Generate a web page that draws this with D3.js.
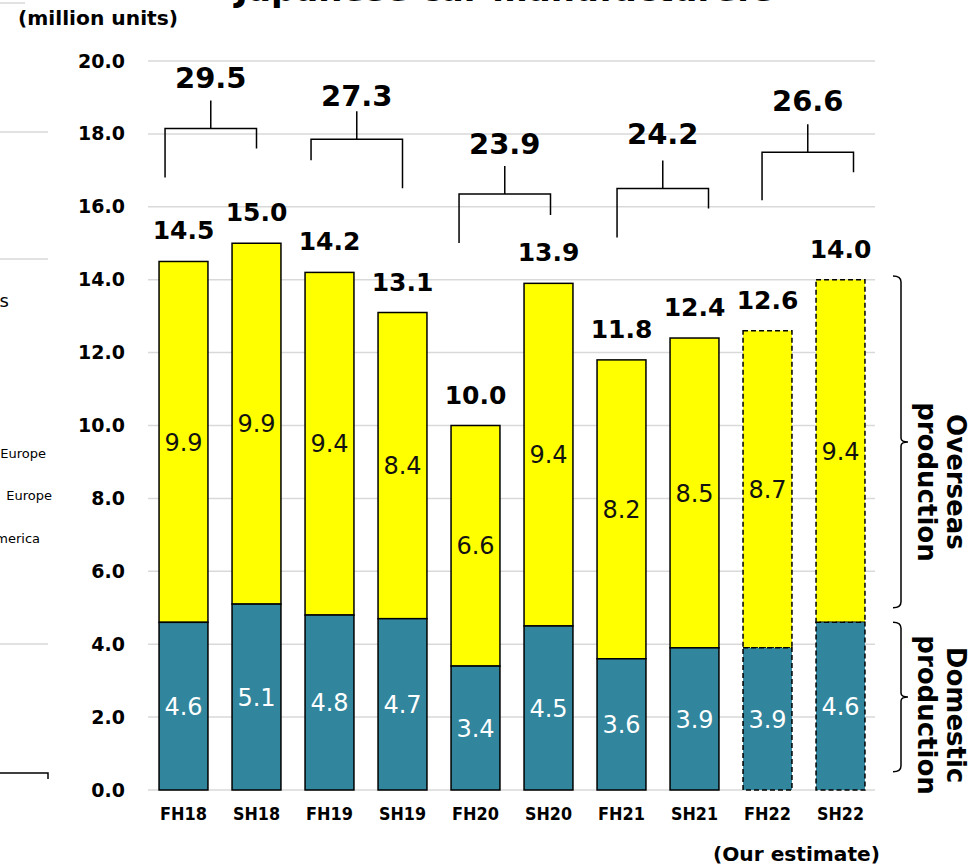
<!DOCTYPE html>
<html lang="en">
<head>
<meta charset="UTF-8">
<title>Japanese car manufacturers production</title>
<script src="https://cdn.jsdelivr.net/npm/d3@7"></script>
<style>
  body { margin: 0; background: #fff; }
  svg { display: block; }
  text { font-family: "DejaVu Sans", Verdana, sans-serif; }
</style>
</head>
<body>
<script>
// half-year periods
var periods = ['FH18', 'SH18', 'FH19', 'SH19', 'FH20', 'SH20', 'FH21', 'SH21', 'FH22', 'SH22'];
var domestic = [4.6, 5.1, 4.8, 4.7, 3.4, 4.5, 3.6, 3.9, 3.9, 4.6];
var overseas = [9.9, 9.9, 9.4, 8.4, 6.6, 9.4, 8.2, 8.5, 8.7, 9.4];
var totals   = [14.5, 15.0, 14.2, 13.1, 10.0, 13.9, 11.8, 12.4, 12.6, 14.0];
var estimate = [false, false, false, false, false, false, false, false, true, true];

// fiscal year totals (brackets over pairs of bars)
var yearTotals = [29.5, 27.3, 23.9, 24.2, 26.6];
var bracketLevel = [18.15, 17.85, 16.35, 16.5, 17.5];   // in million units
var leftDrop  = [49, 21, 49, 49, 48];
var rightDrop = [20, 49, 21, 20, 20];
var bracketShift = [6, 6, 8, 20, 19];
var labelLift = [22, 15, 22, 27, 23];

var yTicks = d3.range(0, 20.01, 2);

var w = 972, h = 867;
var teal = '#31859c', yellow = '#ffff00';

var svg = d3.select('body').append('svg')
  .attr('width', w)
  .attr('height', h);

var x = d3.scaleBand()
  .domain(periods)
  .range([147, 877])
  .paddingInner(0.33)
  .paddingOuter(0.165);

var y = d3.scaleLinear()
  .domain([0, 20])
  .range([790, 61]);

// ---- remnants of the neighbouring chart / title (cropped) ----
svg.append('text')
  .attr('x', 519).attr('y', 1)
  .attr('text-anchor', 'middle')
  .attr('font-size', 34).attr('font-weight', 'bold')
  .text('Japanese car manufacturers>');

var leftLines = [3, 132, 259, 644];
svg.selectAll('line.rem')
  .data(leftLines)
  .enter().append('line')
  .attr('class', 'rem')
  .attr('x1', 0).attr('x2', (d, i) => i === 0 ? 25 : 48)
  .attr('y1', d => d).attr('y2', d => d)
  .attr('stroke', '#d9d9d9').attr('stroke-width', 1.5);
svg.append('path')
  .attr('d', 'M0,773H48V779')
  .attr('fill', 'none').attr('stroke', '#000').attr('stroke-width', 1.5);
svg.append('text').attr('x', 9).attr('y', 307).attr('text-anchor', 'end')
  .attr('font-size', 18).text('s');
svg.append('text').attr('x', 46).attr('y', 458).attr('text-anchor', 'end')
  .attr('font-size', 13).text('Europe');
svg.append('text').attr('x', 52).attr('y', 500).attr('text-anchor', 'end')
  .attr('font-size', 13).text('Europe');
svg.append('text').attr('x', 40).attr('y', 543).attr('text-anchor', 'end')
  .attr('font-size', 13).text('America');

// unit label
svg.append('text')
  .attr('x', 18).attr('y', 25)
  .attr('font-size', 19).attr('font-weight', 'bold')
  .attr('textLength', 160).attr('lengthAdjust', 'spacingAndGlyphs')
  .text('(million units)');

// gridlines
svg.selectAll('line.grid')
  .data(yTicks)
  .enter().append('line')
  .attr('class', 'grid')
  .attr('x1', 148).attr('x2', 875)
  .attr('y1', d => y(d)).attr('y2', d => y(d))
  .attr('stroke', '#d9d9d9').attr('stroke-width', 1.5);

// y axis labels
var yAxis = d3.axisLeft(y).tickValues(yTicks).tickFormat(d3.format('.1f')).tickSize(0).tickPadding(0);
var gy = svg.append('g')
  .attr('transform', 'translate(125,0)')
  .call(yAxis);
gy.select('.domain').remove();
gy.selectAll('text')
  .attr('font-family', '"DejaVu Sans", Verdana, sans-serif')
  .attr('font-size', 19).attr('font-weight', 'bold').attr('fill', '#000');

// x axis labels
var xAxis = d3.axisBottom(x).tickSize(0).tickPadding(0);
var gx = svg.append('g')
  .attr('transform', 'translate(0,808)')
  .call(xAxis);
gx.select('.domain').remove();
gx.selectAll('text')
  .attr('font-family', '"DejaVu Sans", Verdana, sans-serif')
  .attr('font-size', 17).attr('font-weight', 'bold').attr('fill', '#000')
  .attr('textLength', 47).attr('lengthAdjust', 'spacingAndGlyphs');

svg.append('text')
  .attr('x', 880).attr('y', 861)
  .attr('text-anchor', 'end')
  .attr('font-size', 19).attr('font-weight', 'bold')
  .attr('textLength', 167).attr('lengthAdjust', 'spacingAndGlyphs')
  .text('(Our estimate)');

// ---- bars ----
var bars = svg.selectAll('g.bar')
  .data(periods)
  .enter().append('g')
  .attr('class', 'bar');

bars.append('rect')
  .attr('x', d => x(d))
  .attr('width', x.bandwidth())
  .attr('y', (d, i) => y(domestic[i] + overseas[i]))
  .attr('height', (d, i) => y(domestic[i]) - y(domestic[i] + overseas[i]))
  .attr('fill', yellow)
  .attr('stroke', '#000').attr('stroke-width', 1.5)
  .attr('stroke-dasharray', (d, i) => estimate[i] ? '5,3' : null);

bars.append('rect')
  .attr('x', d => x(d))
  .attr('width', x.bandwidth())
  .attr('y', (d, i) => y(domestic[i]))
  .attr('height', (d, i) => y(0) - y(domestic[i]))
  .attr('fill', teal)
  .attr('stroke', '#000').attr('stroke-width', 1.5)
  .attr('stroke-dasharray', (d, i) => estimate[i] ? '5,3' : null);

// segment labels
bars.append('text')
  .attr('x', d => x(d) + x.bandwidth() / 2)
  .attr('y', (d, i) => (y(domestic[i]) + y(domestic[i] + overseas[i])) / 2)
  .attr('dy', '0.36em')
  .attr('text-anchor', 'middle')
  .attr('font-size', 24).attr('fill', '#111')
  .text((d, i) => overseas[i].toFixed(1));

bars.append('text')
  .attr('x', d => x(d) + x.bandwidth() / 2)
  .attr('y', (d, i) => (y(0) + y(domestic[i])) / 2)
  .attr('dy', '0.36em')
  .attr('text-anchor', 'middle')
  .attr('font-size', 24).attr('fill', '#fff')
  .text((d, i) => domestic[i].toFixed(1));

// totals
bars.append('text')
  .attr('x', d => x(d) + x.bandwidth() / 2)
  .attr('y', (d, i) => y(totals[i]) - 22)
  .attr('text-anchor', 'middle')
  .attr('font-size', 25).attr('font-weight', 'bold')
  .text((d, i) => totals[i].toFixed(1));

// ---- fiscal year brackets ----
var years = svg.selectAll('g.year')
  .data(yearTotals)
  .enter().append('g')
  .attr('class', 'year');

function bracketX(i) {
  var x0 = x(periods[i * 2]) + bracketShift[i];
  var x1 = x(periods[i * 2 + 1]) + x.bandwidth() / 2 + bracketShift[i] - 6;
  return [x0, x1];
}

years.append('path')
  .attr('d', function (d, i) {
    var bx = bracketX(i);
    var ly = y(bracketLevel[i]);
    var mx = (bx[0] + bx[1]) / 2;
    return 'M' + bx[0] + ',' + (ly + leftDrop[i]) + 'V' + ly + 'H' + bx[1] + 'V' + (ly + rightDrop[i]) +
      'M' + mx + ',' + ly + 'V' + (ly - 28);
  })
  .attr('fill', 'none').attr('stroke', '#000').attr('stroke-width', 1.5);

years.append('text')
  .attr('x', (d, i) => (bracketX(i)[0] + bracketX(i)[1]) / 2)
  .attr('y', (d, i) => y(bracketLevel[i]) - 28 - labelLift[i] + 10)
  .attr('text-anchor', 'middle')
  .attr('font-size', 29).attr('font-weight', 'bold')
  .text(d => d.toFixed(1));

// ---- right side braces ----
var braces = [
  { lo: 5.0, hi: 14.1, shift: 40, lines: ['Overseas', 'production'] },
  { lo: 0.5, hi: 4.6, shift: 18, lines: ['Domestic', 'production'] }
];

braces.forEach(function (b) {
  var top = y(b.hi), bot = y(b.lo), mid = (top + bot) / 2;
  svg.append('path')
    .attr('d', 'M893,' + top + 'Q901,' + top + ' 901,' + (top + 6) +
      'V' + (mid - 4) + 'Q901,' + mid + ' 908,' + mid +
      'Q901,' + mid + ' 901,' + (mid + 4) +
      'V' + (bot - 6) + 'Q901,' + bot + ' 893,' + bot)
    .attr('fill', 'none').attr('stroke', '#000').attr('stroke-width', 1.5);
  var cy = mid + b.shift;
  b.lines.forEach(function (t, j) {
    var tx = j === 0 ? 956 : 927;
    svg.append('text')
      .attr('transform', 'translate(' + tx + ',' + cy + ') rotate(90)')
      .attr('text-anchor', 'middle')
      .attr('dy', '0.36em')
      .attr('font-size', 26).attr('font-weight', 'bold')
      .text(t);
  });
});
</script>
</body>
</html>
